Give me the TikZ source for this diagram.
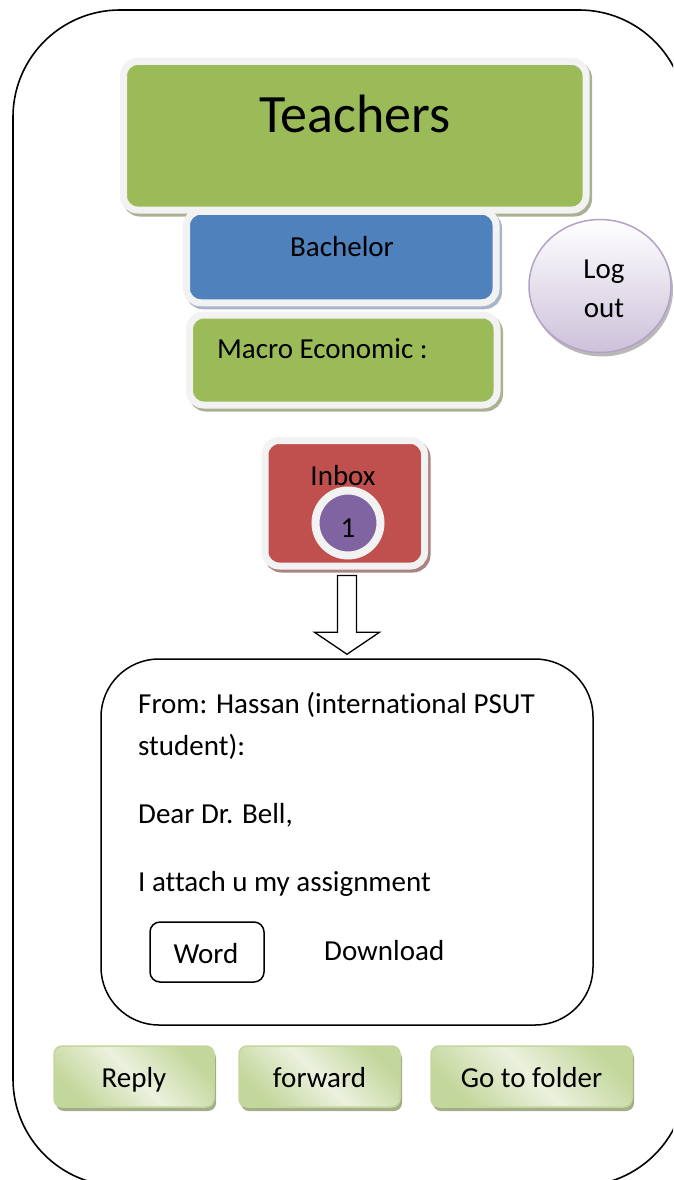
\documentclass[tikz,border=0pt]{standalone}
\usepackage{fontspec}
\setmainfont[Ligatures=NoCommon]{Carlito}
\usetikzlibrary{shadows,shapes.geometric,calc}

\definecolor{leafgreen}{HTML}{9BBB59}
\definecolor{steelblue}{HTML}{4F81BD}
\definecolor{brick}{HTML}{C0504D}
\definecolor{plum}{HTML}{8064A2}
\definecolor{rim}{HTML}{F2F2F2}
\definecolor{greenshade}{HTML}{A9B192}
\definecolor{blueshade}{HTML}{A8B5C8}
\definecolor{redshade}{HTML}{AA8482}
\definecolor{lavender}{HTML}{CCC1DA}
\definecolor{lavrim}{HTML}{B3A2C7}
\definecolor{btnlight}{HTML}{EBF1DE}
\definecolor{btndark}{HTML}{C3D69B}
\definecolor{btnshade}{HTML}{A3AD8A}

\newcommand\bodyfont{\fontsize{29}{35}\selectfont}

\tikzset{
  panel/.style={rectangle, rounded corners=14, draw=rim, line width=7,
    inner sep=0pt},
  panelshadow/.style={general shadow={shadow xshift=2.5pt, shadow yshift=-3pt,
    draw=#1, fill=#1, line width=7}},
  label/.style={inner sep=0pt, font=\bodyfont},
  outline/.style={draw=black, line width=1.5, rounded corners=#1, rectangle,
    inner sep=0pt},
  button/.style={rectangle, rounded corners=8, draw=btndark, line width=1.5,
    shading=axis, top color=btndark, bottom color=btndark,
    middle color=btnlight, shading angle=-45,
    general shadow={shadow xshift=2pt, shadow yshift=-4pt, fill=btnshade},
    minimum height=61, text height=22pt, text depth=1pt, inner sep=0pt,
    font=\bodyfont}
}

\begin{document}
\begin{tikzpicture}[x=1pt, y=-1pt]
\useasboundingbox (0,0) rectangle (673,1180);

% outer screen frame, partly cut off at the right and bottom
\begin{scope}
  \clip (0,0) rectangle (673,1180);
  \draw[line width=1.6, rounded corners=107] (13,10) rectangle (686,1186);
\end{scope}

% header panels
\node[panel, panelshadow=greenshade, fill=leafgreen,
  minimum width=462.5, minimum height=148.5] (teachers) at (354.75,135.75) {};
\node[anchor=base, inner sep=0pt, font=\fontsize{54}{60}\selectfont]
  (teacherstext) at (355,132) {Teachers};

\node[panel, panelshadow=blueshade, fill=steelblue,
  minimum width=309.5, minimum height=91.5] (bachelor) at (341.25,257) {};
\node[label, anchor=base] (bachelortext) at (342,256) {Bachelor};

\node[panel, panelshadow=greenshade, fill=leafgreen,
  minimum width=307.5, minimum height=90] (course) at (343.25,360) {};
\node[label, anchor=base west] (coursetext) at (217,358) {Macro Economic :};

% log out button
\node[ellipse, draw=lavrim, line width=1.5, top color=white,
  bottom color=lavender, minimum width=142, minimum height=133,
  general shadow={shadow xshift=2pt, shadow yshift=-4pt, fill=gray!55}]
  (logout) at (600,286) {};
\node[label, align=center, font=\fontsize{29}{39}\selectfont]
  (logouttext) at (604,289) {Log\\out};

% inbox with unread counter
\node[panel, panelshadow=redshade, fill=brick,
  minimum width=159.5, minimum height=125.5] (inbox) at (344.75,503.25) {};
\node[label, anchor=base] (inboxtext) at (343,485) {Inbox};
\node[circle, draw=rim, fill=plum, line width=8, minimum size=65,
  inner sep=0pt,
  general shadow={shadow xshift=2pt, shadow yshift=-3pt, fill=gray!70}]
  (counter) at (348,523) {};
\node[label, anchor=base, font=\fontsize{29}{32}\selectfont]
  (countertext) at (348,537) {1};

% message box
\node[outline=58, minimum width=492, minimum height=366] (mail) at (347,842) {};
\node[label, anchor=base west] (fromline) at (138,713)
  {From: Hassan (international PSUT};
\node[label, anchor=base west] (fromline2) at (138,755) {student):};
\node[label, anchor=base west] (greeting) at (138,823) {Dear Dr. Bell,};
\node[label, anchor=base west] (bodyline) at (138,891) {I attach u my assignment};
\node[outline=10, minimum width=114, minimum height=60] (word) at (207,952) {};
\node[label, anchor=base] (wordtext) at (206,963) {Word};
\node[label, anchor=base west] (download) at (324,960) {Download};

% block arrow from the inbox down to the message
\draw[line width=1.3, fill=white, line join=miter]
  let \p1 = ($(inbox.south)+(0,6)$), \p2 = ($(mail.north)+(0,-4)$) in
  (\x2-9.5,\y1) -- (\x2+9.5,\y1) -- (\x2+9.5,\y2+22) -- (\x2+32.5,\y2+22)
  -- (\x2,\y2) -- (\x2-32.5,\y2+22) -- (\x2-9.5,\y2+22) -- cycle;

% action buttons
\node[button, minimum width=160] (reply) at (134,1076.5) {Reply};
\node[button, minimum width=161] (forward) at (319.5,1076.5) {forward};
\node[button, minimum width=201] (folder) at (531.5,1076.5) {Go to folder};

\end{tikzpicture}
\end{document}
